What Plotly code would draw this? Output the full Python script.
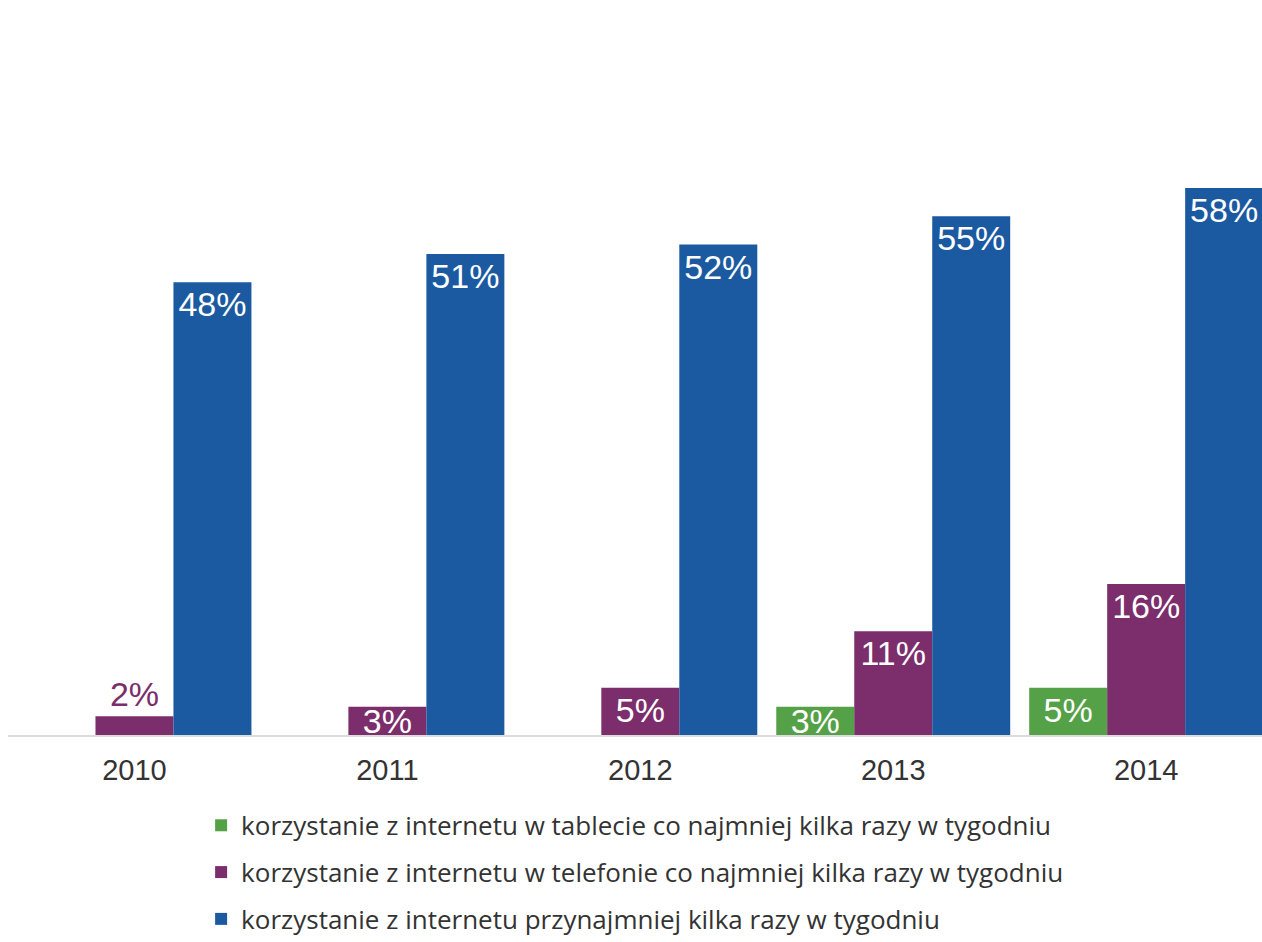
import plotly.graph_objects as go

# Survey years and shares of respondents (%)
years = ["2010", "2011", "2012", "2013", "2014"]
tablet_weekly = [None, None, None, 3, 5]
phone_weekly = [2, 3, 5, 11, 16]
internet_weekly = [48, 51, 52, 55, 58]

series_names = [
    "korzystanie z internetu w tablecie co najmniej kilka razy w tygodniu",
    "korzystanie z internetu w telefonie co najmniej kilka razy w tygodniu",
    "korzystanie z internetu przynajmniej kilka razy w tygodniu",
]
colors = ["#55A147", "#7B2E6B", "#1B5AA1"]

FONT = "Liberation Sans, Arial, sans-serif"
LEGEND_FONT = "Open Sans, Liberation Sans, sans-serif"

fig = go.Figure()

for i, (name, vals, col) in enumerate(zip(series_names, [tablet_weekly, phone_weekly, internet_weekly], colors)):
    # bars tall enough for the label keep it at the top; very short ones
    # center it; the 2% bar shows its label above
    big = [v if (v is not None and v > 3) else None for v in vals]
    small = [v if (v is not None and 2 < v <= 3) else None for v in vals]
    tiny = [v if (v is not None and v <= 2) else None for v in vals]

    common = dict(
        x=years,
        offsetgroup=f"s{i}",
        legendgroup=f"g{i}",
        marker=dict(color=col, line=dict(width=0)),
        textangle=0,
        constraintext="none",
        cliponaxis=True,
        insidetextfont=dict(family=FONT, size=34, color="white"),
        outsidetextfont=dict(family=FONT, size=34, color=col),
        hoverinfo="skip",
    )
    fig.add_trace(go.Bar(
        y=big, name=name, showlegend=True,
        text=[f"{v}%" if v is not None else "" for v in big],
        textposition="inside", insidetextanchor="end", **common,
    ))
    fig.add_trace(go.Bar(
        y=small, name=name, showlegend=False,
        text=[f"{v}%" if v is not None else "" for v in small],
        textposition="inside", insidetextanchor="middle", **common,
    ))
    fig.add_trace(go.Bar(
        y=tiny, name=name, showlegend=False,
        text=[f"{v}%" if v is not None else "" for v in tiny],
        textposition="outside", **common,
    ))

fig.update_layout(
    width=1262,
    height=942,
    margin=dict(l=8, r=0, t=0, b=207, autoexpand=False),
    paper_bgcolor="white",
    plot_bgcolor="white",
    barmode="group",
    bargap=0.075,
    bargroupgap=0,
    font=dict(family=FONT, color="#333333"),
    showlegend=True,
    legend=dict(
        orientation="v",
        x=0.154,
        xanchor="left",
        y=-0.091,
        yanchor="top",
        font=dict(family=LEGEND_FONT, size=26, color="#333333"),
        tracegroupgap=10,
        itemwidth=30,
        bgcolor="rgba(0,0,0,0)",
    ),
    xaxis=dict(
        type="category",
        range=[-0.5, 4.458],
        showline=True,
        linecolor="#DCDCDC",
        linewidth=2,
        ticks="",
        showgrid=False,
        zeroline=False,
        tickfont=dict(family=FONT, size=29, color="#333333"),
        ticklabelstandoff=8,
    ),
    yaxis=dict(
        visible=False,
        range=[0, 77.94],
        showgrid=False,
        zeroline=False,
    ),
)

fig.write_html("out.html")
